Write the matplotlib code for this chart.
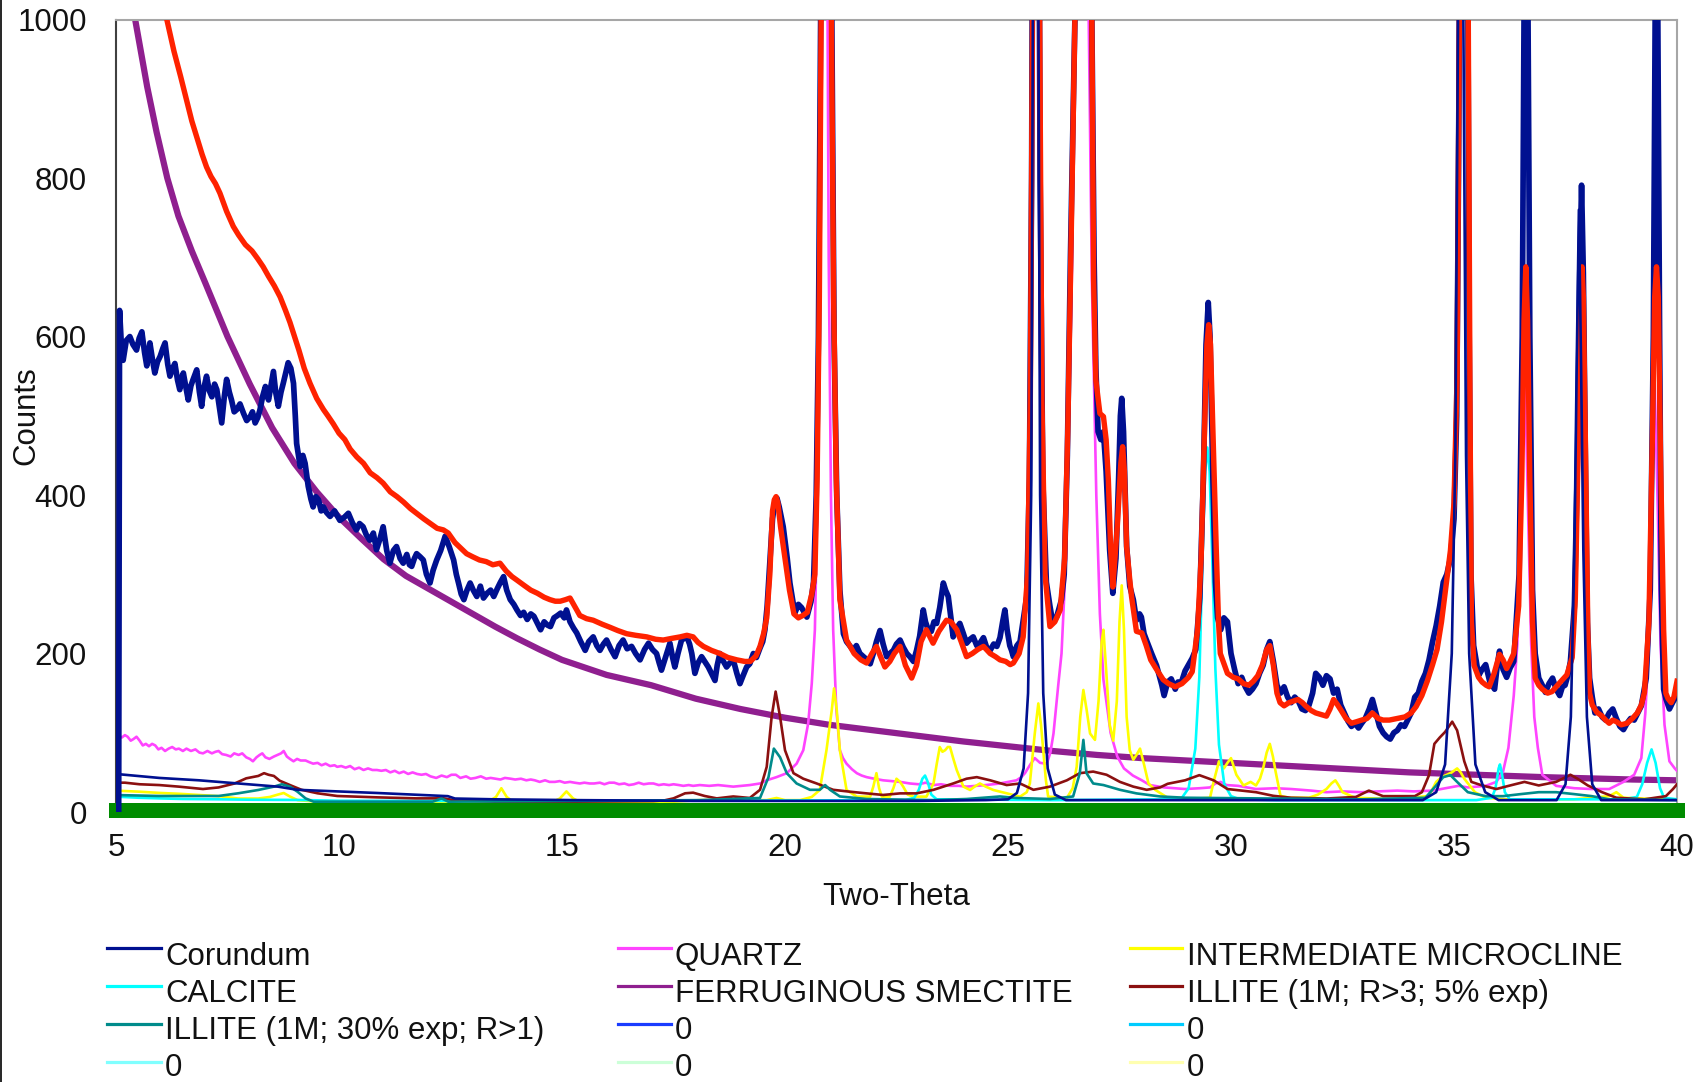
import matplotlib
matplotlib.use("Agg")
import matplotlib.pyplot as plt
from matplotlib.lines import Line2D

plt.rcParams["font.family"] = ["Liberation Sans", "DejaVu Sans"]

# ---- scan data: (two-theta, counts) ----
MEASURED = [
    (5.0, 0), (5.06, 0), (5.08, 633), (5.12, 590), (5.16, 570), (5.23, 595), (5.31, 600), (5.38, 590),
    (5.46, 583), (5.52, 598), (5.58, 606), (5.64, 580), (5.69, 563), (5.76, 592), (5.82, 570), (5.87, 554),
    (5.93, 568), (5.99, 575), (6.05, 585), (6.1, 592), (6.16, 565), (6.21, 550), (6.27, 560), (6.32, 566),
    (6.38, 545), (6.43, 533), (6.47, 548), (6.51, 554), (6.57, 535), (6.62, 520), (6.68, 538), (6.73, 546),
    (6.81, 558), (6.87, 530), (6.92, 512), (6.97, 535), (7.03, 550), (7.09, 532), (7.15, 524), (7.21, 540),
    (7.26, 533), (7.32, 510), (7.37, 491), (7.43, 525), (7.48, 546), (7.54, 530), (7.59, 520), (7.65, 505),
    (7.71, 508), (7.78, 515), (7.86, 503), (7.93, 494), (8.01, 499), (8.06, 505), (8.12, 491), (8.18, 498),
    (8.23, 508), (8.29, 525), (8.35, 537), (8.39, 525), (8.42, 520), (8.48, 540), (8.53, 556), (8.58, 530),
    (8.64, 512), (8.7, 530), (8.75, 541), (8.81, 555), (8.86, 567), (8.92, 560), (8.98, 541), (9.02, 500),
    (9.05, 465), (9.13, 436), (9.19, 450), (9.24, 440), (9.31, 411), (9.37, 395), (9.42, 385), (9.48, 398),
    (9.54, 394), (9.6, 380), (9.65, 385), (9.72, 378), (9.8, 373), (9.9, 380), (10.02, 368), (10.12, 372),
    (10.21, 377), (10.3, 365), (10.39, 356), (10.46, 364), (10.54, 360), (10.61, 350), (10.69, 343),
    (10.77, 352), (10.84, 331), (10.92, 345), (10.99, 360), (11.07, 330), (11.14, 314), (11.22, 330),
    (11.29, 335), (11.37, 320), (11.44, 314), (11.52, 325), (11.58, 312), (11.63, 310), (11.69, 320),
    (11.74, 326), (11.82, 322), (11.89, 318), (11.96, 300), (12.04, 289), (12.11, 305), (12.19, 318),
    (12.28, 330), (12.38, 348), (12.47, 335), (12.57, 318), (12.63, 300), (12.68, 289), (12.74, 275),
    (12.8, 268), (12.87, 280), (12.94, 289), (13.01, 280), (13.09, 272), (13.17, 285), (13.24, 270),
    (13.32, 276), (13.4, 280), (13.47, 272), (13.55, 282), (13.62, 290), (13.69, 297), (13.76, 280),
    (13.84, 268), (13.92, 262), (13.99, 255), (14.07, 248), (14.14, 252), (14.22, 243), (14.3, 250),
    (14.37, 247), (14.45, 238), (14.52, 230), (14.6, 240), (14.67, 236), (14.74, 234), (14.82, 245),
    (14.9, 248), (14.97, 251), (15.05, 245), (15.1, 255), (15.18, 240), (15.26, 232), (15.33, 226),
    (15.42, 215), (15.52, 204), (15.6, 215), (15.7, 221), (15.78, 210), (15.85, 204), (15.93, 212),
    (16.0, 217), (16.1, 205), (16.19, 196), (16.28, 210), (16.37, 217), (16.46, 206), (16.56, 209),
    (16.65, 200), (16.75, 192), (16.85, 205), (16.94, 213), (17.03, 205), (17.12, 200), (17.18, 188),
    (17.23, 179), (17.32, 195), (17.42, 213), (17.48, 195), (17.53, 183), (17.6, 200), (17.68, 217),
    (17.8, 221), (17.86, 212), (17.91, 200), (17.98, 175), (18.05, 188), (18.13, 196), (18.2, 190),
    (18.28, 183), (18.35, 175), (18.43, 166), (18.48, 185), (18.54, 200), (18.6, 192), (18.69, 183),
    (18.76, 188), (18.84, 192), (18.92, 175), (18.99, 162), (19.06, 172), (19.14, 183), (19.21, 187),
    (19.29, 200), (19.36, 195), (19.44, 207), (19.5, 215), (19.55, 230), (19.6, 260), (19.66, 314),
    (19.72, 370), (19.78, 394), (19.82, 396), (19.87, 385), (19.96, 360), (20.05, 320), (20.11, 289),
    (20.22, 251), (20.3, 262), (20.37, 258), (20.49, 246), (20.58, 265), (20.64, 290), (20.7, 400),
    (20.75, 600), (20.8, 1000), (20.92, 2300), (21.05, 1000), (21.1, 600), (21.16, 400), (21.23, 280),
    (21.31, 225), (21.38, 215), (21.45, 210), (21.53, 204), (21.6, 210), (21.68, 200), (21.76, 196),
    (21.84, 192), (21.91, 187), (21.98, 200), (22.05, 215), (22.13, 229), (22.2, 212), (22.28, 196),
    (22.35, 200), (22.43, 204), (22.5, 212), (22.58, 217), (22.65, 208), (22.73, 200), (22.8, 196),
    (22.88, 190), (22.95, 204), (23.02, 222), (23.1, 255), (23.15, 240), (23.21, 230), (23.28, 228),
    (23.34, 240), (23.4, 238), (23.47, 258), (23.55, 289), (23.6, 280), (23.66, 272), (23.72, 245),
    (23.77, 221), (23.85, 232), (23.92, 238), (24.0, 225), (24.07, 213), (24.15, 218), (24.22, 221),
    (24.3, 210), (24.37, 213), (24.45, 220), (24.52, 208), (24.6, 204), (24.68, 212), (24.75, 209),
    (24.82, 220), (24.88, 240), (24.93, 255), (24.98, 230), (25.04, 210), (25.08, 204), (25.12, 196),
    (25.2, 210), (25.27, 215), (25.34, 242), (25.42, 272), (25.48, 420), (25.53, 800), (25.57, 1500),
    (25.62, 2600), (25.67, 1500), (25.72, 800), (25.78, 420), (25.86, 290), (25.94, 260), (26.0, 240),
    (26.09, 246), (26.2, 268), (26.26, 300), (26.33, 450), (26.4, 700), (26.5, 1000), (26.68, 3600),
    (26.88, 1000), (26.93, 700), (26.97, 560), (27.02, 480), (27.08, 470), (27.14, 480), (27.2, 430),
    (27.28, 330), (27.35, 276), (27.42, 320), (27.48, 420), (27.52, 500), (27.55, 522), (27.59, 480),
    (27.66, 335), (27.73, 285), (27.81, 268), (27.88, 242), (27.95, 250), (27.99, 246), (28.05, 225),
    (28.11, 216), (28.22, 200), (28.33, 185), (28.45, 160), (28.5, 147), (28.58, 164), (28.66, 168),
    (28.75, 155), (28.81, 164), (28.89, 164), (28.97, 178), (29.05, 186), (29.13, 194), (29.21, 205),
    (29.3, 270), (29.38, 420), (29.44, 590), (29.49, 643), (29.53, 600), (29.59, 430), (29.65, 290),
    (29.7, 245), (29.77, 230), (29.84, 245), (29.92, 240), (30.0, 200), (30.08, 180), (30.16, 162),
    (30.24, 170), (30.32, 158), (30.4, 150), (30.48, 155), (30.56, 162), (30.64, 175), (30.72, 185),
    (30.8, 205), (30.87, 215), (30.95, 190), (31.03, 160), (31.11, 150), (31.19, 158), (31.27, 145),
    (31.35, 138), (31.43, 145), (31.51, 140), (31.59, 130), (31.67, 128), (31.75, 135), (31.83, 150),
    (31.9, 175), (31.98, 170), (32.06, 160), (32.14, 172), (32.22, 168), (32.3, 150), (32.38, 155),
    (32.46, 135), (32.54, 125), (32.62, 115), (32.7, 108), (32.78, 112), (32.86, 106), (32.93, 112),
    (33.01, 118), (33.1, 130), (33.17, 142), (33.25, 125), (33.33, 108), (33.41, 100), (33.49, 95),
    (33.57, 92), (33.65, 100), (33.73, 103), (33.81, 110), (33.89, 108), (33.96, 116), (34.04, 125),
    (34.12, 145), (34.2, 150), (34.28, 165), (34.36, 175), (34.44, 192), (34.52, 215), (34.6, 235),
    (34.68, 260), (34.76, 290), (34.84, 300), (34.92, 320), (35.0, 370), (35.06, 500), (35.1, 800),
    (35.14, 1200), (35.22, 2000), (35.3, 1200), (35.34, 600), (35.38, 300), (35.44, 210), (35.5, 190),
    (35.55, 172), (35.63, 180), (35.71, 186), (35.8, 165), (35.91, 155), (35.97, 185), (36.02, 203),
    (36.1, 180), (36.18, 170), (36.26, 182), (36.34, 190), (36.46, 300), (36.53, 600), (36.58, 1100),
    (36.61, 1400), (36.65, 1100), (36.7, 600), (36.76, 280), (36.82, 200), (36.9, 169), (36.98, 160),
    (37.05, 151), (37.13, 162), (37.21, 169), (37.29, 155), (37.37, 147), (37.43, 158), (37.49, 160),
    (37.55, 172), (37.61, 190), (37.7, 260), (37.77, 450), (37.82, 680), (37.86, 791), (37.9, 680),
    (37.95, 420), (37.99, 240), (38.04, 169), (38.1, 145), (38.16, 125), (38.24, 130), (38.32, 120),
    (38.4, 116), (38.48, 125), (38.56, 130), (38.64, 118), (38.72, 108), (38.8, 104), (38.88, 112),
    (38.96, 118), (39.04, 116), (39.12, 125), (39.2, 134), (39.31, 169), (39.4, 280), (39.47, 600),
    (39.51, 1000), (39.54, 1300), (39.57, 1000), (39.61, 600), (39.65, 280), (39.7, 155), (39.75, 143),
    (39.83, 130), (39.9, 138), (39.95, 143), (40.0, 150),
]

CALCULATED = [
    (5.95, 1060), (6.14, 1000), (6.3, 960), (6.45, 928), (6.58, 899), (6.7, 872), (6.82, 850), (6.93, 830),
    (7.03, 814), (7.13, 802), (7.23, 793), (7.33, 781), (7.48, 758), (7.63, 739), (7.75, 728), (7.9, 716),
    (8.05, 708), (8.18, 698), (8.3, 688), (8.42, 676), (8.55, 664), (8.68, 650), (8.8, 633), (8.9, 618),
    (8.98, 604), (9.1, 583), (9.22, 560), (9.35, 541), (9.5, 522), (9.65, 508), (9.75, 500), (9.87, 490),
    (10.0, 478), (10.13, 470), (10.25, 458), (10.4, 448), (10.55, 440), (10.7, 428), (10.85, 422),
    (10.99, 415), (11.15, 404), (11.3, 398), (11.45, 391), (11.6, 383), (11.74, 377), (11.9, 370),
    (12.05, 364), (12.2, 358), (12.34, 356), (12.45, 352), (12.6, 340), (12.75, 332), (12.86, 326),
    (13.0, 322), (13.15, 318), (13.3, 316), (13.45, 312), (13.61, 314), (13.75, 304), (13.88, 297),
    (13.98, 293), (14.15, 286), (14.3, 280), (14.45, 276), (14.6, 271), (14.73, 268), (14.85, 266),
    (14.96, 266), (15.08, 268), (15.18, 270), (15.3, 258), (15.4, 248), (15.55, 244), (15.7, 242),
    (15.9, 237), (16.08, 233), (16.25, 229), (16.45, 225), (16.65, 223), (16.9, 221), (17.1, 218),
    (17.27, 217), (17.45, 219), (17.65, 221), (17.8, 223), (17.94, 221), (18.05, 214), (18.17, 209),
    (18.35, 204), (18.54, 200), (18.72, 195), (18.92, 192), (19.1, 190), (19.22, 190), (19.35, 197),
    (19.44, 209), (19.52, 225), (19.59, 245), (19.66, 300), (19.72, 380), (19.76, 394), (19.8, 398),
    (19.84, 390), (19.9, 360), (20.0, 320), (20.1, 280), (20.2, 250), (20.3, 245), (20.4, 248),
    (20.5, 252), (20.6, 275), (20.67, 300), (20.72, 420), (20.77, 650), (20.81, 1000), (20.92, 2200),
    (21.04, 1000), (21.09, 650), (21.15, 420), (21.23, 268), (21.38, 217), (21.55, 200), (21.7, 192),
    (21.83, 188), (21.95, 200), (22.05, 209), (22.15, 195), (22.24, 183), (22.35, 190), (22.45, 200),
    (22.58, 209), (22.7, 185), (22.84, 169), (22.95, 185), (23.05, 215), (23.17, 230), (23.32, 213),
    (23.45, 228), (23.62, 242), (23.72, 240), (23.85, 230), (23.95, 215), (24.07, 196), (24.2, 200),
    (24.32, 205), (24.45, 209), (24.6, 200), (24.72, 196), (24.82, 192), (24.95, 190), (25.05, 186),
    (25.12, 188), (25.25, 200), (25.34, 221), (25.44, 300), (25.5, 520), (25.55, 1000), (25.63, 2300),
    (25.71, 1000), (25.76, 520), (25.83, 300), (25.94, 234), (26.05, 240), (26.17, 255), (26.27, 320),
    (26.34, 480), (26.4, 671), (26.5, 1000), (26.68, 3500), (26.88, 1000), (26.92, 671), (26.97, 545),
    (27.06, 503), (27.14, 499), (27.2, 470), (27.25, 419), (27.3, 335), (27.35, 284), (27.45, 360),
    (27.53, 440), (27.57, 461), (27.61, 430), (27.66, 335), (27.73, 293), (27.77, 272), (27.88, 228),
    (28.0, 226), (28.1, 210), (28.2, 192), (28.33, 180), (28.48, 167), (28.6, 162), (28.75, 158),
    (28.9, 162), (29.05, 170), (29.13, 177), (29.25, 230), (29.33, 320), (29.4, 470), (29.46, 590),
    (29.5, 615), (29.54, 590), (29.6, 470), (29.67, 330), (29.72, 240), (29.76, 200), (29.92, 175),
    (30.05, 170), (30.16, 168), (30.28, 162), (30.4, 160), (30.5, 165), (30.6, 172), (30.7, 185),
    (30.8, 205), (30.87, 210), (30.95, 185), (31.03, 150), (31.1, 138), (31.19, 134), (31.3, 138),
    (31.4, 140), (31.5, 142), (31.6, 138), (31.67, 134), (31.8, 128), (31.9, 125), (32.02, 123),
    (32.14, 121), (32.22, 130), (32.3, 142), (32.38, 136), (32.46, 129), (32.58, 118), (32.7, 112),
    (32.82, 114), (32.93, 116), (33.05, 118), (33.17, 125), (33.3, 118), (33.41, 116), (33.55, 116),
    (33.73, 118), (33.9, 120), (34.04, 125), (34.15, 133), (34.28, 147), (34.4, 165), (34.52, 186),
    (34.62, 205), (34.72, 240), (34.82, 285), (34.92, 330), (35.0, 390), (35.07, 550), (35.12, 1000),
    (35.22, 1800), (35.32, 1000), (35.36, 500), (35.39, 240), (35.45, 185), (35.55, 170), (35.63, 164),
    (35.72, 160), (35.79, 158), (35.9, 175), (36.02, 199), (36.1, 192), (36.18, 181), (36.26, 190),
    (36.34, 200), (36.45, 260), (36.52, 420), (36.57, 620), (36.61, 688), (36.65, 620), (36.7, 420),
    (36.76, 240), (36.82, 169), (36.9, 160), (36.98, 155), (37.1, 150), (37.2, 152), (37.29, 158),
    (37.4, 165), (37.53, 173), (37.65, 195), (37.72, 270), (37.79, 480), (37.84, 650), (37.87, 688),
    (37.9, 650), (37.95, 450), (38.0, 230), (38.04, 150), (38.1, 135), (38.2, 126), (38.32, 121),
    (38.4, 116), (38.48, 112), (38.56, 116), (38.64, 114), (38.75, 110), (38.88, 112), (39.0, 118),
    (39.11, 125), (39.2, 135), (39.27, 151), (39.37, 240), (39.45, 480), (39.5, 650), (39.54, 688),
    (39.58, 650), (39.63, 450), (39.7, 230), (39.75, 150), (39.8, 143), (39.87, 138), (39.93, 145),
    (40.0, 165),
]

# ---- phase contributions ----
CORUNDUM = [
    (5.0, 48), (5.97, 43), (6.86, 40), (7.74, 36), (8.63, 32), (9.07, 28), (9.96, 26), (10.85, 24),
    (12.44, 20), (12.6, 17), (13.5, 16), (15.28, 15), (17.94, 14), (20.0, 14), (23.0, 14), (24.5, 15),
    (25.0, 16), (25.2, 24), (25.35, 55), (25.45, 150), (25.52, 400), (25.57, 1200), (25.62, 2500),
    (25.67, 1200), (25.72, 400), (25.79, 150), (25.89, 55), (26.05, 22), (26.3, 15), (34.3, 15),
    (34.6, 25), (34.8, 60), (34.95, 200), (35.03, 450), (35.09, 1000), (35.15, 1800), (35.21, 1000),
    (35.27, 450), (35.34, 200), (35.48, 60), (35.7, 25), (36.0, 15), (37.3, 15), (37.5, 35),
    (37.62, 120), (37.7, 330), (37.75, 560), (37.8, 760), (37.85, 560), (37.9, 330), (37.98, 120),
    (38.1, 35), (38.3, 15), (40.0, 15),
]

QUARTZ = [
    (5.0, 92), (5.06, 96), (5.13, 94), (5.2, 97), (5.26, 95), (5.33, 90), (5.39, 92), (5.46, 95),
    (5.53, 90), (5.6, 84), (5.67, 86), (5.74, 83), (5.81, 86), (5.88, 84), (5.95, 79), (6.02, 81),
    (6.1, 77), (6.18, 80), (6.26, 82), (6.34, 79), (6.41, 80), (6.5, 77), (6.58, 80), (6.68, 77),
    (6.78, 79), (6.87, 75), (6.95, 74), (7.05, 77), (7.15, 74), (7.23, 76), (7.3, 77), (7.38, 73),
    (7.47, 72), (7.57, 70), (7.65, 74), (7.75, 72), (7.83, 74), (7.92, 69), (8.0, 67), (8.07, 64),
    (8.15, 69), (8.22, 72), (8.28, 74), (8.35, 69), (8.44, 67), (8.54, 70), (8.62, 72), (8.7, 74),
    (8.76, 77), (8.83, 70), (8.9, 67), (8.98, 64), (9.06, 67), (9.14, 65), (9.25, 65), (9.33, 63),
    (9.42, 61), (9.52, 62), (9.61, 59), (9.7, 61), (9.8, 58), (9.9, 59), (9.96, 57), (10.05, 58),
    (10.15, 56), (10.25, 58), (10.35, 54), (10.45, 56), (10.55, 53), (10.65, 55), (10.75, 53),
    (10.85, 53), (10.95, 52), (11.05, 53), (11.15, 50), (11.25, 52), (11.35, 49), (11.45, 51),
    (11.55, 48), (11.65, 50), (11.75, 48), (11.85, 47), (11.95, 48), (12.05, 45), (12.18, 43),
    (12.3, 46), (12.42, 44), (12.52, 47), (12.62, 47), (12.72, 43), (12.85, 45), (12.95, 42),
    (13.06, 43), (13.18, 45), (13.3, 42), (13.4, 43), (13.51, 42), (13.62, 41), (13.72, 43),
    (13.85, 42), (13.95, 41), (14.08, 42), (14.2, 40), (14.3, 41), (14.39, 40), (14.5, 38),
    (14.62, 40), (14.72, 38), (14.84, 38), (14.95, 39), (15.06, 37), (15.18, 38), (15.28, 37),
    (15.4, 36), (15.5, 37), (15.62, 36), (15.72, 36), (15.85, 37), (15.95, 35), (16.06, 37),
    (16.17, 37), (16.28, 35), (16.4, 36), (16.5, 34), (16.61, 35), (16.72, 37), (16.83, 35),
    (16.95, 36), (17.05, 36), (17.17, 34), (17.28, 35), (17.4, 34), (17.5, 35), (17.62, 34),
    (17.72, 33), (17.84, 34), (17.94, 33), (18.09, 34), (18.3, 33), (18.5, 34), (18.84, 32),
    (19.21, 34), (19.44, 36), (19.59, 40), (19.81, 44), (20.04, 49), (20.26, 61), (20.41, 78),
    (20.52, 112), (20.6, 162), (20.67, 230), (20.73, 400), (20.78, 700), (20.83, 1300), (20.88, 1900),
    (20.93, 1300), (20.98, 700), (21.03, 400), (21.08, 230), (21.15, 130), (21.23, 78), (21.3, 68),
    (21.38, 61), (21.5, 54), (21.61, 49), (21.72, 46), (21.83, 44), (22.0, 42), (22.2, 40),
    (22.4, 39), (22.58, 38), (22.8, 36), (23.0, 35), (23.15, 37), (23.33, 34), (23.5, 35),
    (23.7, 33), (23.9, 33), (24.07, 32), (24.3, 33), (24.5, 34), (24.65, 35), (24.82, 36),
    (25.0, 38), (25.19, 40), (25.3, 44), (25.38, 49), (25.5, 60), (25.6, 68), (25.72, 62),
    (25.87, 61), (25.95, 75), (26.02, 99), (26.13, 162), (26.2, 200), (26.3, 320), (26.43, 671),
    (26.5, 1000), (26.58, 1900), (26.655, 3800), (26.73, 1900), (26.81, 1000), (26.88, 671),
    (26.98, 400), (27.06, 250), (27.14, 167), (27.3, 100), (27.45, 70), (27.6, 55), (27.8, 46),
    (28.0, 40), (28.18, 34), (28.5, 31), (28.97, 29), (29.3, 30), (29.53, 31), (29.65, 36),
    (29.77, 38), (29.9, 34), (30.16, 33), (30.56, 29), (31.0, 30), (31.35, 29), (31.8, 27),
    (32.14, 25), (32.5, 26), (32.93, 25), (33.3, 26), (33.73, 27), (34.1, 26), (34.52, 27),
    (34.91, 31), (35.1, 33), (35.31, 31), (35.71, 33), (35.95, 38), (36.1, 51), (36.22, 81),
    (36.34, 147), (36.42, 212), (36.5, 380), (36.58, 580), (36.66, 380), (36.73, 212), (36.8, 120),
    (36.88, 81), (36.98, 47), (37.29, 33), (37.7, 30), (38.09, 29), (38.48, 29), (38.8, 38),
    (39.04, 47), (39.2, 68), (39.29, 125), (39.37, 212), (39.43, 380), (39.5, 540), (39.57, 380),
    (39.63, 212), (39.72, 110), (39.83, 64), (39.95, 55), (40.0, 52),
]

MICROCLINE = [
    (5.0, 27), (5.2, 26.5), (5.53, 25.6), (6.0, 24), (6.41, 23), (7.0, 21), (7.3, 20), (7.74, 17),
    (8.19, 17), (8.45, 19), (8.6, 21.5), (8.76, 24), (8.9, 19.5), (9.07, 15), (9.52, 13), (10.85, 12.6),
    (12.5, 12.6), (13.35, 13), (13.52, 19), (13.64, 30), (13.76, 19), (13.9, 13), (14.8, 13),
    (14.95, 17), (15.1, 26), (15.25, 17), (15.4, 13), (17.5, 13), (18.09, 15), (19.59, 15),
    (19.81, 17.7), (20.0, 15), (20.34, 15), (20.6, 19), (20.78, 27.8), (20.93, 78), (21.05, 129),
    (21.1, 156), (21.16, 129), (21.23, 78), (21.38, 27.8), (21.61, 19.4), (21.91, 19.4), (21.98, 32),
    (22.05, 49), (22.11, 30), (22.17, 19.4), (22.35, 19.4), (22.43, 30), (22.5, 42), (22.58, 38),
    (22.65, 32), (22.75, 22), (22.88, 19.4), (23.17, 19.4), (23.33, 36), (23.4, 60), (23.47, 82),
    (23.53, 76), (23.59, 78), (23.65, 82), (23.7, 82), (23.77, 68), (23.85, 53), (24.0, 32),
    (24.15, 27.8), (24.25, 32), (24.37, 36), (24.5, 32), (24.67, 27.8), (24.97, 23.6), (25.27, 19.4),
    (25.42, 25), (25.49, 36), (25.6, 99), (25.68, 137), (25.74, 110), (25.79, 78), (25.85, 40),
    (25.9, 19.4), (26.32, 17.7), (26.45, 30), (26.54, 57), (26.62, 120), (26.69, 154), (26.76, 130),
    (26.84, 99), (26.95, 91), (27.03, 140), (27.1, 215), (27.14, 230), (27.2, 180), (27.28, 110),
    (27.36, 90), (27.44, 140), (27.5, 240), (27.55, 286), (27.6, 230), (27.66, 120), (27.73, 78),
    (27.81, 66), (27.88, 72), (27.96, 80), (28.05, 60), (28.15, 36), (28.3, 28), (28.41, 24),
    (28.58, 18), (28.97, 16), (29.53, 18), (29.61, 38), (29.73, 64), (29.8, 58), (29.84, 55),
    (29.92, 62), (30.0, 68), (30.12, 47), (30.28, 33.5), (30.44, 38), (30.56, 33.5), (30.65, 42),
    (30.72, 55), (30.8, 75), (30.87, 86), (30.94, 70), (31.0, 51), (31.11, 20.4), (31.3, 18),
    (31.75, 18), (31.95, 22), (32.14, 29), (32.25, 36), (32.34, 40), (32.42, 33), (32.5, 25),
    (32.78, 18), (33.73, 16), (34.44, 20.4), (34.6, 38), (34.72, 44), (34.84, 47), (34.95, 50),
    (35.07, 55), (35.15, 50), (35.23, 42), (35.47, 25), (35.71, 18), (36.1, 16), (37.69, 16),
    (38.48, 20), (38.64, 25), (38.8, 18), (39.67, 16), (40.0, 16),
]

CALCITE = [
    (5.0, 19.4), (5.5, 18), (5.97, 17.2), (6.5, 16.4), (7.3, 16), (8.0, 15.5), (9.07, 15.2),
    (10.0, 14.2), (12.0, 14), (15.0, 14), (20.0, 14.5), (22.7, 15), (22.9, 18), (23.0, 28),
    (23.08, 42), (23.14, 46), (23.2, 38), (23.28, 22), (23.4, 16), (26.0, 15), (28.6, 16), (28.9, 18),
    (29.05, 30), (29.2, 80), (29.29, 170), (29.36, 320), (29.42, 430), (29.47, 460), (29.52, 430),
    (29.58, 320), (29.65, 180), (29.73, 85), (29.85, 35), (30.0, 20), (30.2, 16), (31.0, 15),
    (35.5, 15), (35.85, 18), (35.93, 30), (36.0, 55), (36.03, 60), (36.07, 50), (36.14, 25),
    (36.25, 16), (38.8, 16), (39.1, 19), (39.22, 35), (39.33, 62), (39.43, 79), (39.52, 62),
    (39.62, 30), (39.71, 18), (40.0, 16),
]

SMECTITE = [
    (5.0, 1300), (5.2, 1140), (5.43, 1000), (5.7, 915), (5.91, 858), (6.15, 800), (6.4, 752),
    (6.7, 708), (7.0, 668), (7.5, 600), (8.0, 540), (8.5, 485), (9.0, 440), (9.5, 404), (10.0, 372),
    (10.5, 345), (11.0, 319), (11.5, 298), (12.0, 282), (12.5, 266), (13.0, 250), (13.5, 234),
    (14.0, 219), (14.5, 205), (15.0, 192), (16.0, 173), (17.0, 160), (18.0, 143), (19.0, 130),
    (20.0, 119), (21.0, 110), (22.0, 103), (23.0, 96), (24.0, 89), (25.0, 83), (26.0, 77), (27.0, 72),
    (28.0, 68), (29.0, 65), (30.0, 62), (31.0, 59), (32.0, 56), (33.0, 53), (34.0, 50), (35.0, 48),
    (36.0, 46), (37.0, 44), (38.0, 42.5), (39.0, 41), (40.0, 40),
]

ILLITE_R3 = [
    (5.0, 37), (5.2, 37), (5.53, 35), (5.97, 34), (6.41, 32), (6.95, 29), (7.3, 31), (7.66, 36),
    (7.92, 42.5), (8.19, 45.5), (8.32, 49), (8.42, 47), (8.54, 45.5), (8.67, 39.5), (8.9, 34),
    (9.16, 28), (9.52, 23.6), (9.96, 20.2), (10.85, 18.5), (11.73, 17.2), (12.35, 17.2), (12.6, 14.7),
    (13.5, 13), (15.28, 13), (17.05, 13.8), (17.3, 14.7), (17.5, 17.2), (17.76, 23.6), (17.94, 24.4),
    (18.2, 20.2), (18.47, 17.2), (18.84, 19.6), (19.21, 17.7), (19.44, 28), (19.59, 57), (19.7, 120),
    (19.79, 152), (19.89, 120), (20.0, 78), (20.19, 49), (20.41, 42), (20.71, 36), (21.08, 28),
    (21.46, 25.6), (21.83, 23.5), (22.2, 21.5), (22.58, 23.5), (22.95, 23.5), (23.33, 28), (23.77, 36),
    (24.07, 42), (24.3, 44), (24.6, 40), (24.97, 34), (25.27, 36), (25.57, 28), (25.94, 32),
    (26.32, 40), (26.61, 49), (26.91, 51), (27.21, 47), (27.51, 38), (27.81, 32), (28.11, 28),
    (28.41, 31), (28.58, 35.6), (28.97, 40), (29.29, 46.5), (29.61, 40), (29.92, 29), (30.24, 27),
    (30.56, 25), (30.95, 20.4), (31.35, 18), (32.14, 17), (32.8, 19), (33.09, 27), (33.41, 20),
    (34.12, 20), (34.28, 25), (34.44, 46.5), (34.56, 86), (34.68, 94), (34.8, 101), (34.96, 114),
    (35.07, 103), (35.23, 64), (35.39, 38), (35.63, 33.5), (35.95, 29), (36.26, 33.5), (36.58, 38),
    (36.9, 33.5), (37.29, 38), (37.61, 47), (37.77, 42), (38.0, 33.5), (38.32, 25), (38.64, 18),
    (39.27, 16), (39.75, 20), (39.91, 29), (40.0, 35),
]

ILLITE_R1 = [
    (5.0, 21.4), (5.97, 20.2), (7.3, 20.2), (7.74, 23.6), (8.19, 27.8), (8.54, 32), (8.72, 35),
    (8.9, 32), (9.07, 25.6), (9.25, 17.2), (9.43, 13), (12.1, 13), (12.3, 17.2), (12.45, 13),
    (18.09, 15), (19.44, 17.7), (19.63, 44), (19.75, 80), (19.89, 69), (20.04, 49), (20.26, 36),
    (20.56, 28), (20.78, 28), (20.9, 34), (21.01, 28), (21.23, 19.6), (21.83, 16.4), (23.33, 15),
    (24.07, 16.4), (24.82, 19.6), (25.19, 17.7), (25.94, 16.4), (26.46, 19.6), (26.61, 49),
    (26.69, 91), (26.76, 49), (26.91, 36), (27.14, 34), (27.51, 28), (27.88, 23.5), (28.41, 19.6),
    (28.97, 18), (32.93, 16), (34.36, 18), (34.6, 33.5), (34.76, 44), (34.92, 46.5), (35.07, 38),
    (35.31, 25), (35.71, 20), (36.1, 20), (36.5, 22.6), (36.9, 25), (37.29, 25), (37.69, 22.6),
    (38.09, 20), (38.48, 16), (40.0, 15),
]

DIFFERENCE = [(5.0, 3), (40.0, 3)]
EMPTY = [(5.0, 0), (40.0, 0)]

X_TICKS = [5, 10, 15, 20, 25, 30, 35, 40]
Y_TICKS = [0, 200, 400, 600, 800, 1000]

# legend layout: (label, colour), row by row, three per row
LEGEND_ROWS = [
    [("Corundum", "#001090"), ("QUARTZ", "#ff44ff"), ("INTERMEDIATE MICROCLINE", "#ffff00")],
    [("CALCITE", "#00ffff"), ("FERRUGINOUS SMECTITE", "#8f1f8f"), ("ILLITE (1M; R>3; 5% exp)", "#8b1010")],
    [("ILLITE (1M; 30% exp; R>1)", "#008b8b"), ("0", "#1a3cff"), ("0", "#00ccff")],
    [("0", "#80ffff"), ("0", "#ccffd8"), ("0", "#ffffb0")],
]


def xy(points):
    return [p[0] for p in points], [p[1] for p in points]


W, H = 1707, 1082
fig = plt.figure(figsize=(W / 100, H / 100), dpi=100)
ax = fig.add_axes([116 / W, 1 - 812 / H, (1677 - 116) / W, (812 - 19.6) / H])

ax.plot(*xy(SMECTITE), color="#8f1f8f", lw=4.5, zorder=2)
for pts, col in [(QUARTZ, "#ff44ff"), (MICROCLINE, "#ffff00"), (CALCITE, "#00ffff"),
                 (ILLITE_R3, "#8b1010"), (ILLITE_R1, "#008b8b")]:
    ax.plot(*xy(pts), color=col, lw=1.9, zorder=3)
for col in ["#1a3cff", "#00ccff", "#80ffff", "#ccffd8", "#ffffb0"]:
    ax.plot(*xy(EMPTY), color=col, lw=1.9, zorder=3)
ax.plot(*xy(DIFFERENCE), color="#008c00", lw=10.8, solid_capstyle="projecting",
        clip_on=False, zorder=4)
ax.plot(*xy(MEASURED), color="#001090", lw=4.1, zorder=5)
ax.plot(*xy(CALCULATED), color="#ff2200", lw=3.9, zorder=6)
ax.plot(*xy(CORUNDUM), color="#001090", lw=1.9, zorder=7)

ax.set_xlim(5, 40)
ax.set_ylim(0, 1000)
ax.set_xticks(X_TICKS)
ax.set_yticks(Y_TICKS)
ax.tick_params(axis="both", length=0, labelsize=22.5, colors="#111111")
ax.tick_params(axis="y", pad=21)
ax.tick_params(axis="x", pad=15)

ax.set_xlabel("Two-Theta", fontsize=22.5, color="#111111")
ax.xaxis.set_label_coords(0.5, -0.088)
ax.set_ylabel("Counts", fontsize=22.5, color="#111111")
ax.yaxis.set_label_coords(-0.0477, 0.5)

for side in ["top", "right", "bottom"]:
    ax.spines[side].set_color("#a6a6a6")
    ax.spines[side].set_linewidth(1.5)
ax.spines["left"].set_color("#404040")
ax.spines["left"].set_linewidth(1.5)

# legend drawn by hand so the three columns sit on a fixed grid
col_x = [(107, 161, 165), (618, 671, 675), (1130, 1182, 1187)]
line_y = [948, 986, 1024, 1062]
base_y = [965, 1002, 1039, 1076]
for r, row in enumerate(LEGEND_ROWS):
    for c, (label, col) in enumerate(row):
        x0, x1, tx = col_x[c]
        fig.add_artist(Line2D([x0 / W, x1 / W], [1 - line_y[r] / H] * 2, color=col, lw=2.3,
                              transform=fig.transFigure))
        fig.text(tx / W, 1 - base_y[r] / H, label, fontsize=22.5, color="#111111",
                 ha="left", va="baseline")

fig.add_artist(Line2D([0.0006, 0.0006], [0, 1], color="black", lw=1.2, transform=fig.transFigure))

fig.savefig("out.png", dpi=100, facecolor="white")
